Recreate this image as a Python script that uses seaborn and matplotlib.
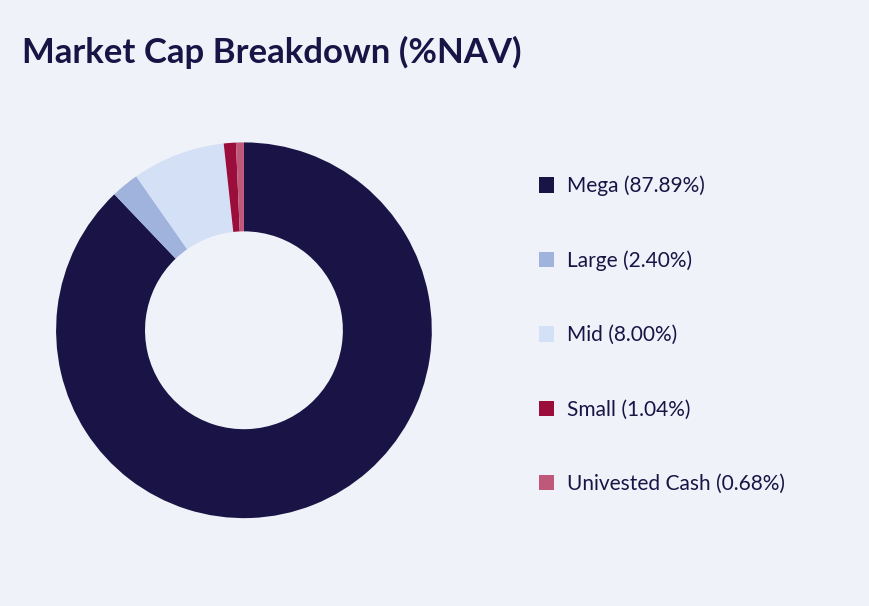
import matplotlib
matplotlib.use("Agg")
import matplotlib.pyplot as plt
import seaborn as sns
from matplotlib.patches import Patch

categories = ["Mega", "Large", "Mid", "Small", "Univested Cash"]
values = [87.89, 2.40, 8.00, 1.04, 0.68]
colors = ["#1a1446", "#9fb3dd", "#d3e0f5", "#9b0d3a", "#c0587a"]
bg = "#eff3f9"

sns.set_theme(style="white")
plt.rcParams["font.family"] = ["Source Sans Pro", "Lato", "DejaVu Sans"]

fig = plt.figure(figsize=(8.7, 6.06), dpi=100, facecolor=bg)
ax = fig.add_axes([0.0644, 0.145, 0.432, 0.620])
ax.set_facecolor(bg)

ax.pie(values, colors=colors, startangle=90, counterclock=False,
       wedgeprops=dict(width=89 / 188, linewidth=0))
ax.set_xlim(-1, 1)
ax.set_ylim(-1, 1)
ax.set_aspect("equal")
ax.axis("off")

fig.text(22 / 870, 1 - 52 / 606, "Market Cap Breakdown (%NAV)", fontsize=25,
         fontweight="bold", color="#1a1446", va="center", ha="left")

handles = [Patch(facecolor=c, edgecolor="none") for c in colors]
labels = [f"{n} ({v:.2f}%)" for n, v in zip(categories, values)]
fig.legend(handles, labels, loc="upper left", bbox_to_anchor=(520 / 870, 1 - 157 / 606),
           frameon=False, fontsize=15, labelcolor="#1a1446", labelspacing=2.6,
           handlelength=0.75, handleheight=0.75, handletextpad=0.6)

fig.savefig("out.png", dpi=100, facecolor=bg)
